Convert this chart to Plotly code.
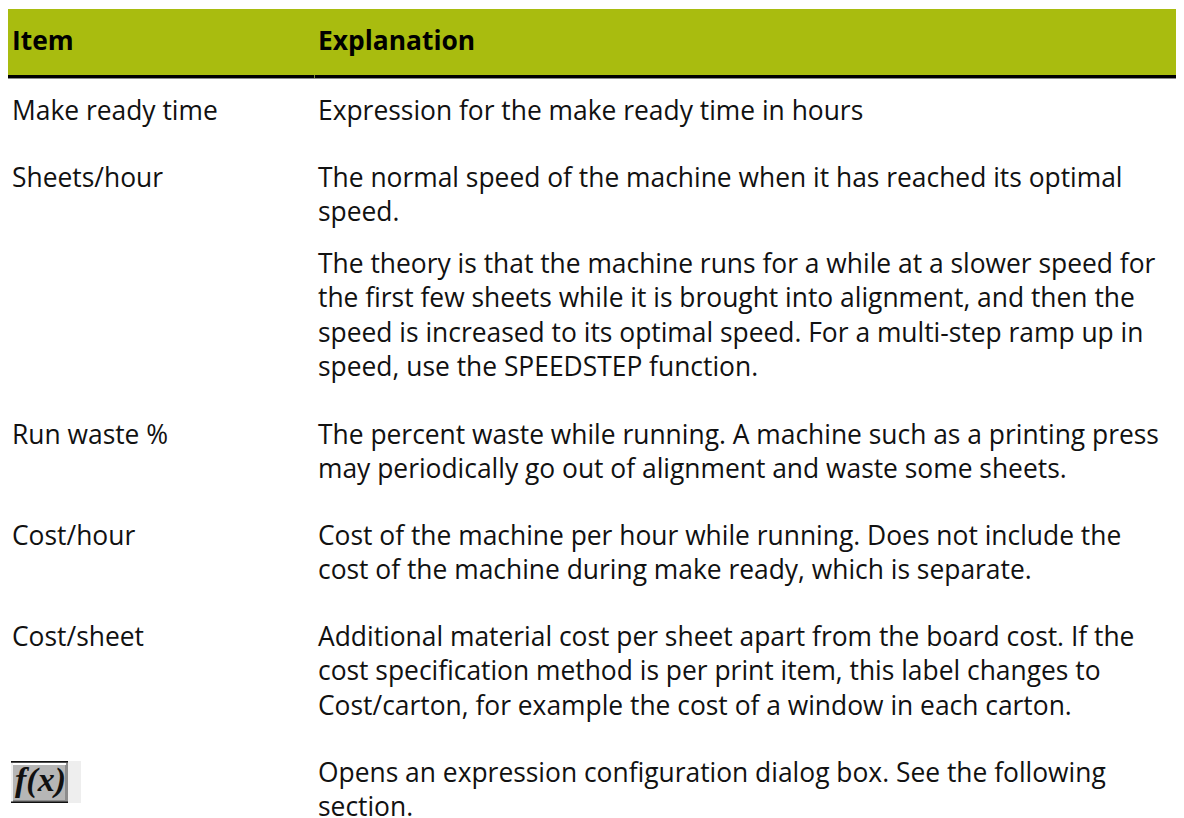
import plotly.graph_objects as go

WIDTH, HEIGHT = 1184, 818
BODY = 8  # the page's default body margin: the plot starts here

header_items = ["Item", "Explanation"]
row_items = ["Make ready time", "Sheets/hour", "", "Run waste %", "Cost/hour", "Cost/sheet", ""]
row_explanations = [
    ["Expression for the make ready time in hours"],
    ["The normal speed of the machine when it has reached its optimal", "speed."],
    ["The theory is that the machine runs for a while at a slower speed for",
     "the first few sheets while it is brought into alignment, and then the",
     "speed is increased to its optimal speed. For a multi-step ramp up in",
     "speed, use the SPEEDSTEP function."],
    ["The percent waste while running. A machine such as a printing press",
     "may periodically go out of alignment and waste some sheets."],
    ["Cost of the machine per hour while running. Does not include the",
     "cost of the machine during make ready, which is separate."],
    ["Additional material cost per sheet apart from the board cost. If the",
     "cost specification method is per print item, this label changes to",
     "Cost/carton, for example the cost of a window in each carton."],
    ["Opens an expression configuration dialog box. See the following",
     "section."],
]
row_first_line_y = [110, 177, 263, 434, 535, 636, 772]
LINE = 34.4
COL1, COL2 = 10, 316
FONT = "Open Sans"
SIZE = 26.4

fig = go.Figure()
fig.add_trace(go.Scatter(x=[BODY, WIDTH], y=[BODY, HEIGHT], mode="markers",
                         marker=dict(opacity=0), hoverinfo="skip", showlegend=False))

ann = []
def text(x, y, s, bold=False, size=SIZE, family=FONT, color="#111111"):
    ann.append(dict(x=x, y=y, text=f"<b>{s}</b>" if bold else s, xref="x", yref="y",
                    xanchor="left", yanchor="middle", showarrow=False,
                    font=dict(family=family, size=size, color=color)))

text(COL1, 40, header_items[0], bold=True, color="#000000")
text(COL2, 40, header_items[1], bold=True, color="#000000")
for item, lines, y0 in zip(row_items, row_explanations, row_first_line_y):
    if item:
        text(COL1, y0, item)
    for i, line in enumerate(lines):
        text(COL2, y0 + i * LINE, line)

def rect(x0, x1, y0, y1, color):
    return dict(type="rect", x0=x0, x1=x1, y0=y0, y1=y1, fillcolor=color, line_width=0, layer="below")

shapes = [
    rect(8, WIDTH, 9, 75, "#a9bc0f"),
    rect(8, WIDTH, 75, 78, "#000000"),
    rect(8, WIDTH, 78, 79, "#8a8a8a"),
    rect(314, 315, 75, 78, "#7d8a3a"),
    rect(68, 81, 761, 803, "#eeeeee"),
    rect(11, 68, 761, 803, "#8c8c8c"),
    rect(13, 65, 765, 800, "#b6b6b6"),
    rect(11, 68, 761, 762.5, "#111111"),
    rect(11, 66, 763, 765, "#ffffff"),
    rect(11, 13, 763, 802, "#f0f0f0"),
    rect(11, 68, 801.5, 803, "#111111"),
]
fig.update_layout(
    width=WIDTH - BODY, height=HEIGHT - BODY, margin=dict(l=0, r=0, t=0, b=0),
    paper_bgcolor="white", plot_bgcolor="white", showlegend=False,
    xaxis=dict(range=[BODY, WIDTH], visible=False, fixedrange=True),
    yaxis=dict(range=[HEIGHT, BODY], visible=False, fixedrange=True),
    annotations=ann + [dict(x=40, y=780, text="<b><i>f(x)</i></b>", xref="x", yref="y",
                            showarrow=False, font=dict(family="Liberation Serif", size=34, color="#111111"))],
    shapes=shapes,
)
fig.write_html("out.html")
